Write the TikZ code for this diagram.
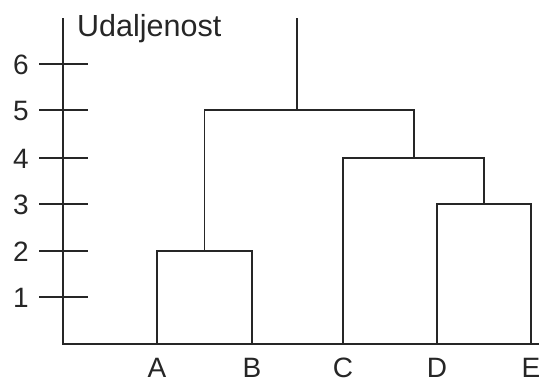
\documentclass[tikz,border=0pt]{standalone}
\usepackage{fontspec}
\setmainfont{Liberation Sans}
\begin{document}
\begin{tikzpicture}[x=1pt,y=-1pt,
  lbl/.style={inner sep=0pt, font=\fontsize{28}{30}\selectfont, text=black!85},
  ttl/.style={lbl, font=\fontsize{30.5}{32}\selectfont},
  leaf/.style={lbl, text depth=0pt},
  ln/.style={line width=1.1pt, black!85}]
\useasboundingbox (0,0) rectangle (539,380);
% axes
\coordinate (top) at (63,18);
\coordinate (orig) at (63,344);
\coordinate (xend) at (539,344);
\draw[ln] (top) -- (orig) -- (xend);
\node[ttl, anchor=base west] (title) at (77,36.5) {Udaljenost};
% ticks
\foreach \v/\y in {1/297,2/251,3/204,4/158,5/110,6/64}{
  \coordinate (tl\v) at (39,\y);
  \coordinate (tr\v) at (88,\y);
  \draw[ln] (tl\v) -- (tr\v);
  \node[lbl, anchor=east] (n\v) at (29,\y+1) {\v};
}
% leaves
\coordinate (A) at (157,344);
\coordinate (B) at (252,344);
\coordinate (C) at (343,344);
\coordinate (D) at (437,344);
\coordinate (E) at (531,344);
\foreach \l in {A,B,C,D,E}{
  \node[leaf, anchor=base] (lab\l) at ([yshift=-33pt]\l) {\l};
}
% joins
\coordinate (AB) at (204.5,251);
\coordinate (DE) at (484,204);
\coordinate (CDE) at (414,158);
\coordinate (ALL) at (297,110);
\coordinate (roottop) at (297,18);
\draw[ln] (A) |- (AB) -| (B);
\draw[ln] (D) |- (DE) -| (E);
\draw[ln] (C) |- (CDE) -| (DE);
\draw[ln] (AB) |- (ALL) -| (CDE);
\draw[ln] (ALL) -- (roottop);
\end{tikzpicture}
\end{document}
